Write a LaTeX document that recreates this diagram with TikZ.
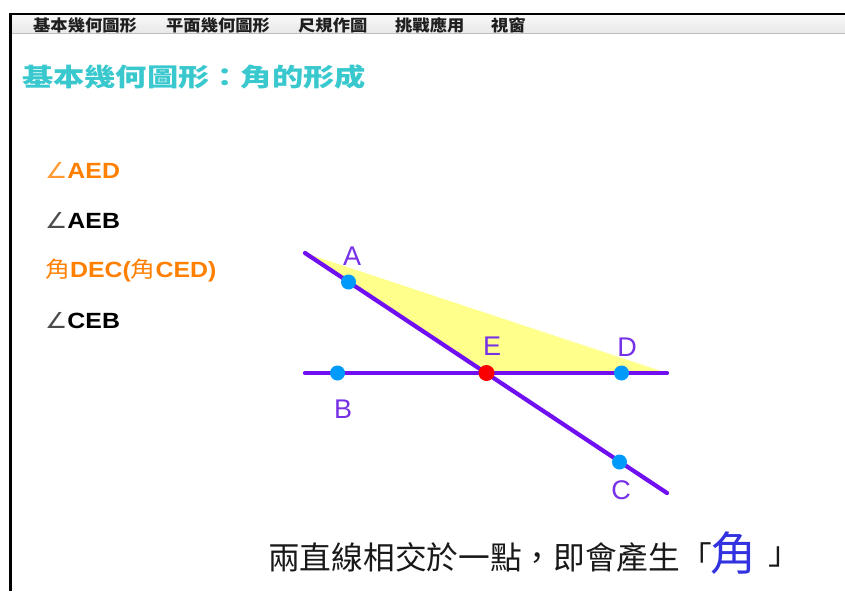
\documentclass[tikz,border=0pt]{standalone}
\usepackage{fontspec}
\usepackage{graphicx}
\setmainfont{Liberation Sans}
\newfontfamily\cjk{Noto Sans CJK TC}
\newfontfamily\dejavu{DejaVu Sans}
\definecolor{linepurple}{RGB}{112,16,240}
\definecolor{labpurple}{RGB}{118,48,230}
\definecolor{ptblue}{RGB}{0,155,250}
\definecolor{ptred}{RGB}{250,0,0}
\definecolor{triyellow}{RGB}{255,255,140}
\definecolor{triedge}{RGB}{200,130,70}
\definecolor{titlecyan}{RGB}{56,200,205}
\definecolor{angorange}{RGB}{255,128,0}
\definecolor{jiaoblue}{RGB}{50,50,225}
\definecolor{menutop}{RGB}{248,248,248}
\definecolor{menubot}{RGB}{232,232,232}
\tikzset{
  x=1pt, y=-1pt,
  geoline/.style={draw=linepurple, line width=4.2pt, line cap=round},
  geopt/.style={circle, fill=ptblue, inner sep=0pt, minimum size=15pt},
  redpt/.style={circle, fill=ptred, inner sep=0pt, minimum size=16pt},
  ptlabel/.style={text=labpurple, font=\fontsize{27}{27}\selectfont, inner sep=0pt},
  menuitem/.style={anchor=west, inner sep=0pt, text=black!88, font=\cjk\bfseries\fontsize{16}{16}\selectfont},
  anglab/.style={anchor=west, inner sep=0pt, font=\bfseries\fontsize{22}{22}\selectfont},
}
\begin{document}
\begin{tikzpicture}
\useasboundingbox (0,0) rectangle (845,591);
\fill[white] (0,0) rectangle (845,591);
% menu bar
\shade[top color=menutop, bottom color=menubot] (10,15) rectangle (845,33);
\draw[black!25, line width=1.2pt] (10,33.5) -- (845,33.5);
\draw[black, line width=2pt] (10,14) -- (845,14);
\draw[black, line width=3pt] (10.5,13) -- (10.5,591);
\node[menuitem] (m1) at (33,25) {\scalebox{1.08}[1]{基本幾何圖形}};
\node[menuitem] (m2) at (166,25) {\scalebox{1.08}[1]{平面幾何圖形}};
\node[menuitem] (m3) at (298,25) {\scalebox{1.08}[1]{尺規作圖}};
\node[menuitem] (m4) at (395,25) {\scalebox{1.08}[1]{挑戰應用}};
\node[menuitem] (m5) at (491,25) {\scalebox{1.08}[1]{視窗}};
% title
\node[anchor=west, inner sep=0pt, text=titlecyan, font=\cjk\bfseries\fontsize{25}{25}\selectfont] (title) at (22,77) {\scalebox{1.25}[1]{基本幾何圖形：角的形成}};
% angle list
\node[anglab, text=angorange] (l1) at (45,170) {\scalebox{1.13}[1]{{\dejavu\mdseries\color{angorange!80}∠}AED}};
\node[anglab, text=black] (l2) at (45,220) {\scalebox{1.13}[1]{{\dejavu\mdseries\color{black!70}∠}AEB}};
\node[anglab, text=angorange] (l3) at (45,271) {\scalebox{1.13}[1]{{\cjk\mdseries 角}DEC({\cjk\mdseries 角}CED)}};
\node[anglab, text=black] (l4) at (45,321) {\scalebox{1.13}[1]{{\dejavu\mdseries\color{black!70}∠}CEB}};
% geometry
\coordinate (s1) at (305,253);
\coordinate (e1) at (667,493);
\coordinate (s2) at (305,373);
\coordinate (e2) at (667,373);
\coordinate (Ec) at (486.5,373);
\fill[triyellow] (s1) -- (e2) -- (Ec) -- cycle;
\draw[triedge, line width=1pt] (s1) -- (Ec);
\draw[geoline] (s1) -- (e1);
\draw[geoline] (s2) -- (e2);
\node[geopt] (A) at (348.5,282) {};
\node[geopt] (B) at (337.5,373) {};
\node[geopt] (D) at (621.5,373) {};
\node[geopt] (C) at (619.5,462) {};
\node[redpt] (E) at (Ec) {};
\node[ptlabel] (lA) at (352,256) {A};
\node[ptlabel] (lE) at (492,346.5) {E};
\node[ptlabel] (lD) at (627,347) {D};
\node[ptlabel] (lB) at (343,409) {B};
\node[ptlabel] (lC) at (621,490) {C};
% bottom caption
\node[anchor=west, inner sep=0pt, font=\cjk\fontsize{31.7}{31.7}\selectfont, text=black!90] (cap) at (268,557) {兩直線相交於一點，即會產生「};
\node[inner sep=0pt, font=\cjk\fontsize{46}{46}\selectfont, text=jiaoblue] (jiao) at (733.5,553) {角};
\node[anchor=west, inner sep=0pt, font=\cjk\fontsize{31.7}{31.7}\selectfont, text=black!90] (close) at (768,557) {」};
\end{tikzpicture}
\end{document}
